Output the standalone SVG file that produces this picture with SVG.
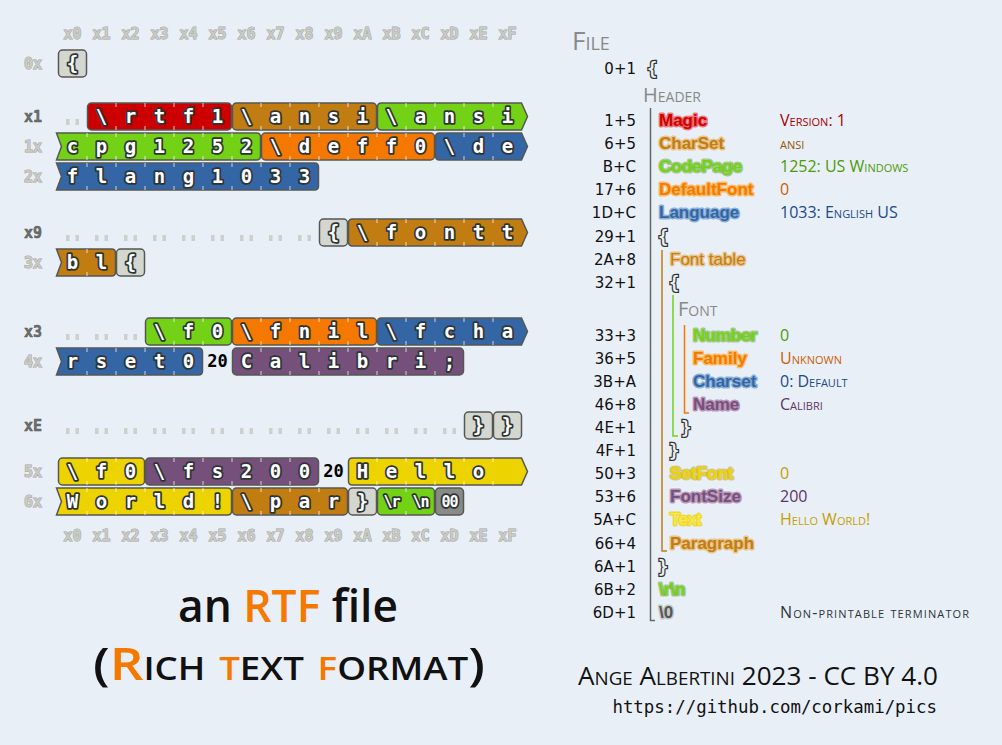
<svg xmlns="http://www.w3.org/2000/svg" width="1002" height="745" viewBox="0 0 1002 745">
<style>
.seg{stroke:#555753;stroke-width:1.5}
.red{fill:#cc0000}.brn{fill:#c17d11}.grn{fill:#73d216}.org{fill:#f57900}.blu{fill:#3465a4}.pur{fill:#75507b}.yel{fill:#edd400}.gry{fill:#d3d7cf}.dgr{fill:#888a85}
.ch{font-family:"DejaVu Sans Mono",monospace;font-weight:bold;font-size:19px;fill:#fff;stroke:#2e3436;stroke-width:3.5;paint-order:stroke;text-anchor:middle;stroke-linejoin:round}
.sm{font-size:15px;letter-spacing:-1px}
.sp{font-family:"DejaVu Sans Mono",monospace;font-weight:bold;font-size:17px;fill:#000;text-anchor:middle}
.tick{stroke:#fff;stroke-opacity:.6;stroke-width:1.2;fill:none}
.dots{fill:#cdd0cb}
.hd{font-family:"DejaVu Sans Mono",monospace;font-weight:bold;font-size:15px;fill:#c8cac3;stroke:#a3a59f;stroke-width:1;paint-order:stroke;text-anchor:middle}
.rl{font-family:"DejaVu Sans Mono",monospace;font-weight:bold;font-size:15px;text-anchor:middle}
.lt{fill:#c8cac3;stroke:#a3a59f;stroke-width:1;paint-order:stroke}
.dk{fill:#6e706b;stroke:#555753;stroke-width:.5}
.off{font-family:"DejaVu Sans",sans-serif;font-size:15px;fill:#111;text-anchor:end}
.fn{font-family:"Liberation Sans",Arial,sans-serif;font-weight:bold;font-size:17px;paint-order:stroke;stroke-width:3;stroke-linejoin:round}
.br{font-family:"DejaVu Sans Mono",monospace;font-weight:bold;font-size:17px;fill:#eeeeec;stroke:#2e3436;stroke-width:2.5;paint-order:stroke}
.val{font-family:"Open Sans",sans-serif;font-size:16px;font-variant:small-caps}
.ttl{font-family:"Open Sans",sans-serif;fill:#2e3436;font-variant:small-caps}
.tree{fill:none;stroke-width:1.5}
</style>
<rect width="1002" height="745" fill="#e9eff7"/>

<g id="col-headers" class="hd">
<text x="72.5" y="39">x0</text><text x="101.5" y="39">x1</text><text x="130.5" y="39">x2</text><text x="159.5" y="39">x3</text>
<text x="188.5" y="39">x4</text><text x="217.5" y="39">x5</text><text x="246.5" y="39">x6</text><text x="275.5" y="39">x7</text>
<text x="304.5" y="39">x8</text><text x="333.5" y="39">x9</text><text x="362.5" y="39">xA</text><text x="391.5" y="39">xB</text>
<text x="420.5" y="39">xC</text><text x="449.5" y="39">xD</text><text x="478.5" y="39">xE</text><text x="507.5" y="39">xF</text>
<text x="72.5" y="541">x0</text><text x="101.5" y="541">x1</text><text x="130.5" y="541">x2</text><text x="159.5" y="541">x3</text>
<text x="188.5" y="541">x4</text><text x="217.5" y="541">x5</text><text x="246.5" y="541">x6</text><text x="275.5" y="541">x7</text>
<text x="304.5" y="541">x8</text><text x="333.5" y="541">x9</text><text x="362.5" y="541">xA</text><text x="391.5" y="541">xB</text>
<text x="420.5" y="541">xC</text><text x="449.5" y="541">xD</text><text x="478.5" y="541">xE</text><text x="507.5" y="541">xF</text>
</g>

<g id="row-labels" class="rl">
<text class="lt" x="33" y="69">0x</text>
<text class="dk" x="33" y="122">x1</text>
<text class="lt" x="33" y="152">1x</text>
<text class="lt" x="33" y="182">2x</text>
<text class="dk" x="33" y="238">x9</text>
<text class="lt" x="33" y="268">3x</text>
<text class="dk" x="33" y="337">x3</text>
<text class="lt" x="33" y="367">4x</text>
<text class="dk" x="33" y="431">xE</text>
<text class="lt" x="33" y="477">5x</text>
<text class="lt" x="33" y="507">6x</text>
</g>

<g id="padding-dots" class="dots">
<path d="M66,119h3.5v6h-3.5zM75.5,119h3.5v6h-3.5z"/>
<path d="M66,235h3.5v6h-3.5zM75.5,235h3.5v6h-3.5zM95,235h3.5v6h-3.5zM104.5,235h3.5v6h-3.5zM124,235h3.5v6h-3.5zM133.5,235h3.5v6h-3.5zM153,235h3.5v6h-3.5zM162.5,235h3.5v6h-3.5zM182,235h3.5v6h-3.5zM191.5,235h3.5v6h-3.5zM211,235h3.5v6h-3.5zM220.5,235h3.5v6h-3.5zM240,235h3.5v6h-3.5zM249.5,235h3.5v6h-3.5zM269,235h3.5v6h-3.5zM278.5,235h3.5v6h-3.5zM298,235h3.5v6h-3.5zM307.5,235h3.5v6h-3.5z"/>
<path d="M66,334h3.5v6h-3.5zM75.5,334h3.5v6h-3.5zM95,334h3.5v6h-3.5zM104.5,334h3.5v6h-3.5zM124,334h3.5v6h-3.5zM133.5,334h3.5v6h-3.5z"/>
<path d="M66,428h3.5v6h-3.5zM75.5,428h3.5v6h-3.5zM95,428h3.5v6h-3.5zM104.5,428h3.5v6h-3.5zM124,428h3.5v6h-3.5zM133.5,428h3.5v6h-3.5zM153,428h3.5v6h-3.5zM162.5,428h3.5v6h-3.5zM182,428h3.5v6h-3.5zM191.5,428h3.5v6h-3.5zM211,428h3.5v6h-3.5zM220.5,428h3.5v6h-3.5zM240,428h3.5v6h-3.5zM249.5,428h3.5v6h-3.5zM269,428h3.5v6h-3.5zM278.5,428h3.5v6h-3.5zM298,428h3.5v6h-3.5zM307.5,428h3.5v6h-3.5zM327,428h3.5v6h-3.5zM336.5,428h3.5v6h-3.5zM356,428h3.5v6h-3.5zM365.5,428h3.5v6h-3.5zM385,428h3.5v6h-3.5zM394.5,428h3.5v6h-3.5zM414,428h3.5v6h-3.5zM423.5,428h3.5v6h-3.5zM443,428h3.5v6h-3.5zM452.5,428h3.5v6h-3.5z"/>
</g>

<g id="file-open"><rect class="seg gry" x="58.5" y="50" width="28" height="27" rx="4"/><text class="ch" x="72.5" y="70">{</text></g>

<g id="magic"><rect class="seg red" x="87.5" y="103" width="144" height="27" rx="4"/><text class="ch" x="101.5 130.5 159.5 188.5 217.5" y="123">\rtf1</text></g>
<g id="charset"><rect class="seg brn" x="232.5" y="103" width="144" height="27" rx="4"/><text class="ch" x="246.5 275.5 304.5 333.5 362.5" y="123">\ansi</text></g>
<g id="codepage">
<path class="seg grn" d="M381.5,103H521.5L527.5,116.5L521.5,130H381.5Q377.5,130 377.5,126V107Q377.5,103 381.5,103Z"/>
<text class="ch" x="391.5 420.5 449.5 478.5 507.5" y="123">\ansi</text>
<path class="seg grn" d="M56.5,133H256.5Q260.5,133 260.5,137V156Q260.5,160 256.5,160H56.5L61.5,146.5Z"/>
<text class="ch" x="72.5 101.5 130.5 159.5 188.5 217.5 246.5" y="153">cpg1252</text>
</g>
<g id="defaultfont"><rect class="seg org" x="261.5" y="133" width="173" height="27" rx="4"/><text class="ch" x="275.5 304.5 333.5 362.5 391.5 420.5" y="153">\deff0</text></g>
<g id="language">
<path class="seg blu" d="M439.5,133H521.5L527.5,146.5L521.5,160H439.5Q435.5,160 435.5,156V137Q435.5,133 439.5,133Z"/>
<text class="ch" x="449.5 478.5 507.5" y="153">\de</text>
<path class="seg blu" d="M56.5,163H314.5Q318.5,163 318.5,167V186Q318.5,190 314.5,190H56.5L61.5,176.5Z"/>
<text class="ch" x="72.5 101.5 130.5 159.5 188.5 217.5 246.5 275.5 304.5" y="183">flang1033</text>
</g>

<g id="group-open"><rect class="seg gry" x="319.5" y="219" width="28" height="27" rx="4"/><text class="ch" x="333.5" y="239">{</text></g>
<g id="fonttable">
<path class="seg brn" d="M352.5,219H521.5L527.5,232.5L521.5,246H352.5Q348.5,246 348.5,242V223Q348.5,219 352.5,219Z"/>
<text class="ch" x="362.5 391.5 420.5 449.5 478.5 507.5" y="239">\fontt</text>
<path class="seg brn" d="M56.5,249H111.5Q115.5,249 115.5,253V272Q115.5,276 111.5,276H56.5L61.5,262.5Z"/>
<text class="ch" x="72.5 101.5" y="269">bl</text>
</g>
<g id="font-open"><rect class="seg gry" x="116.5" y="249" width="28" height="27" rx="4"/><text class="ch" x="130.5" y="269">{</text></g>

<g id="font-number"><rect class="seg grn" x="145.5" y="318" width="86" height="27" rx="4"/><text class="ch" x="159.5 188.5 217.5" y="338">\f0</text></g>
<g id="font-family"><rect class="seg org" x="232.5" y="318" width="144" height="27" rx="4"/><text class="ch" x="246.5 275.5 304.5 333.5 362.5" y="338">\fnil</text></g>
<g id="font-charset">
<path class="seg blu" d="M381.5,318H521.5L527.5,331.5L521.5,345H381.5Q377.5,345 377.5,341V322Q377.5,318 381.5,318Z"/>
<text class="ch" x="391.5 420.5 449.5 478.5 507.5" y="338">\fcha</text>
<path class="seg blu" d="M56.5,348H198.5Q202.5,348 202.5,352V371Q202.5,375 198.5,375H56.5L61.5,361.5Z"/>
<text class="ch" x="72.5 101.5 130.5 159.5 188.5" y="368">rset0</text>
</g>
<g id="space1"><text class="sp" x="217.5" y="367">20</text></g>
<g id="font-name"><rect class="seg pur" x="232.5" y="348" width="231" height="27" rx="4"/><text class="ch" x="246.5 275.5 304.5 333.5 362.5 391.5 420.5 449.5" y="368">Calibri;</text></g>

<g id="font-close"><rect class="seg gry" x="464.5" y="412" width="28" height="27" rx="4"/><text class="ch" x="478.5" y="432">}</text></g>
<g id="table-close"><rect class="seg gry" x="493.5" y="412" width="28" height="27" rx="4"/><text class="ch" x="507.5" y="432">}</text></g>

<g id="setfont"><rect class="seg yel" x="58.5" y="458" width="86" height="27" rx="4"/><text class="ch" x="72.5 101.5 130.5" y="478">\f0</text></g>
<g id="fontsize"><rect class="seg pur" x="145.5" y="458" width="173" height="27" rx="4"/><text class="ch" x="159.5 188.5 217.5 246.5 275.5 304.5" y="478">\fs200</text></g>
<g id="space2"><text class="sp" x="333.5" y="477">20</text></g>
<g id="text">
<path class="seg yel" d="M352.5,458H521.5L527.5,471.5L521.5,485H352.5Q348.5,485 348.5,481V462Q348.5,458 352.5,458Z"/>
<text class="ch" x="362.5 391.5 420.5 449.5 478.5" y="478">Hello</text>
<path class="seg yel" d="M56.5,488H227.5Q231.5,488 231.5,492V511Q231.5,515 227.5,515H56.5L61.5,501.5Z"/>
<text class="ch" x="72.5 101.5 130.5 159.5 188.5 217.5" y="508">World!</text>
</g>
<g id="paragraph"><rect class="seg brn" x="232.5" y="488" width="115" height="27" rx="4"/><text class="ch" x="246.5 275.5 304.5 333.5" y="508">\par</text></g>
<g id="file-close"><rect class="seg gry" x="348.5" y="488" width="28" height="27" rx="4"/><text class="ch" x="362.5" y="508">}</text></g>
<g id="crlf"><rect class="seg grn" x="377.5" y="488" width="57" height="27" rx="4"/><text class="ch sm" x="391.5" y="507">\r</text><text class="ch sm" x="420.5" y="507">\n</text></g>
<g id="terminator"><rect class="seg dgr" x="435.5" y="488" width="28" height="27" rx="4"/><text class="ch sm" x="449.5" y="507">00</text></g>

<g id="cell-ticks" class="tick">
<path d="M116,103v4M116,130v-4M145,103v4M145,130v-4M174,103v4M174,130v-4M203,103v4M203,130v-4M261,103v4M261,130v-4M290,103v4M290,130v-4M319,103v4M319,130v-4M348,103v4M348,130v-4M406,103v4M406,130v-4M435,103v4M435,130v-4M464,103v4M464,130v-4M493,103v4M493,130v-4"/>
<path d="M87,133v4M87,160v-4M116,133v4M116,160v-4M145,133v4M145,160v-4M174,133v4M174,160v-4M203,133v4M203,160v-4M232,133v4M232,160v-4M290,133v4M290,160v-4M319,133v4M319,160v-4M348,133v4M348,160v-4M377,133v4M377,160v-4M406,133v4M406,160v-4M464,133v4M464,160v-4M493,133v4M493,160v-4"/>
<path d="M87,163v4M87,190v-4M116,163v4M116,190v-4M145,163v4M145,190v-4M174,163v4M174,190v-4M203,163v4M203,190v-4M232,163v4M232,190v-4M261,163v4M261,190v-4M290,163v4M290,190v-4"/>
<path d="M377,219v4M377,246v-4M406,219v4M406,246v-4M435,219v4M435,246v-4M464,219v4M464,246v-4M493,219v4M493,246v-4M87,249v4M87,276v-4"/>
<path d="M174,318v4M174,345v-4M203,318v4M203,345v-4M261,318v4M261,345v-4M290,318v4M290,345v-4M319,318v4M319,345v-4M348,318v4M348,345v-4M406,318v4M406,345v-4M435,318v4M435,345v-4M464,318v4M464,345v-4M493,318v4M493,345v-4"/>
<path d="M87,348v4M87,375v-4M116,348v4M116,375v-4M145,348v4M145,375v-4M174,348v4M174,375v-4M261,348v4M261,375v-4M290,348v4M290,375v-4M319,348v4M319,375v-4M348,348v4M348,375v-4M377,348v4M377,375v-4M406,348v4M406,375v-4M435,348v4M435,375v-4"/>
<path d="M87,458v4M87,485v-4M116,458v4M116,485v-4M174,458v4M174,485v-4M203,458v4M203,485v-4M232,458v4M232,485v-4M261,458v4M261,485v-4M290,458v4M290,485v-4M377,458v4M377,485v-4M406,458v4M406,485v-4M435,458v4M435,485v-4M464,458v4M464,485v-4M493,458v4M493,485v-4"/>
<path d="M87,488v4M87,515v-4M116,488v4M116,515v-4M145,488v4M145,515v-4M174,488v4M174,515v-4M203,488v4M203,515v-4M261,488v4M261,515v-4M290,488v4M290,515v-4M319,488v4M319,515v-4M406,488v4M406,515v-4"/>
</g>

<g id="title">
<text class="ttl" x="288" y="622" font-size="45" font-weight="600" text-anchor="middle" textLength="220" lengthAdjust="spacingAndGlyphs" style="font-variant:normal;fill:#111">an <tspan fill="#f57900" style="fill:#f57900">RTF</tspan> file</text>
<text class="ttl" x="289" y="680" font-size="46" font-weight="600" text-anchor="middle" textLength="392" lengthAdjust="spacingAndGlyphs" style="fill:#111">(<tspan style="fill:#f57900">R</tspan>ich <tspan style="fill:#f57900">t</tspan>ext <tspan style="fill:#f57900">f</tspan>ormat)</text>
</g>

<g id="structure-labels">
<text class="ttl" x="572" y="50" font-size="26" style="fill:#888a85">File</text>
<text class="ttl" x="643" y="102" font-size="20" style="fill:#888a85">Header</text>
<text class="ttl" x="678" y="316" font-size="20" style="fill:#888a85">Font</text>
</g>

<g id="offsets" class="off">
<text x="636" y="74">0+1</text>
<text x="636" y="126">1+5</text>
<text x="636" y="149">6+5</text>
<text x="636" y="172">B+C</text>
<text x="636" y="195">17+6</text>
<text x="636" y="218">1D+C</text>
<text x="636" y="242">29+1</text>
<text x="636" y="265">2A+8</text>
<text x="636" y="288">32+1</text>
<text x="636" y="341">33+3</text>
<text x="636" y="364">36+5</text>
<text x="636" y="387">3B+A</text>
<text x="636" y="410">46+8</text>
<text x="636" y="433">4E+1</text>
<text x="636" y="456">4F+1</text>
<text x="636" y="479">50+3</text>
<text x="636" y="502">53+6</text>
<text x="636" y="525">5A+C</text>
<text x="636" y="549">66+4</text>
<text x="636" y="572">6A+1</text>
<text x="636" y="595">6B+2</text>
<text x="636" y="618">6D+1</text>
</g>

<g id="connectors" class="tree">
<path d="M650.5,108V620.5H655" stroke="#666862"/>
<path d="M662,250V551H667" stroke="#c17d11"/>
<path d="M673,295V436H678" stroke="#73d216"/>
<path d="M684.5,325V413H689" stroke="#f57900"/>
</g>

<g id="braces" class="br">
<text x="647" y="75">{</text>
<text x="658" y="243">{</text>
<text x="669" y="289">{</text>
<text x="681" y="434">}</text>
<text x="669" y="457">}</text>
<text x="658" y="573">}</text>
</g>

<g id="field-names" class="fn">
<text x="659" y="126" fill="#cc0000" stroke="#ef2929" stroke-opacity=".6">Magic</text>
<text x="659" y="149" fill="#c17d11" stroke="#e9b96e" stroke-opacity=".8">CharSet</text>
<text x="659" y="172" fill="#73d216" stroke="#4e9a06" stroke-opacity=".45">CodePage</text>
<text x="659" y="195" fill="#f57900" stroke="#fcaf3e" stroke-opacity=".8">DefaultFont</text>
<text x="659" y="218" fill="#3465a4" stroke="#729fcf" stroke-opacity=".8">Language</text>
<text x="670" y="265" fill="#c17d11" stroke="#e9b96e" stroke-opacity=".8" style="font-weight:normal">Font table</text>
<text x="693" y="341" fill="#73d216" stroke="#4e9a06" stroke-opacity=".45">Number</text>
<text x="693" y="364" fill="#f57900" stroke="#fcaf3e" stroke-opacity=".8">Family</text>
<text x="693" y="387" fill="#3465a4" stroke="#729fcf" stroke-opacity=".8">Charset</text>
<text x="693" y="410" fill="#75507b" stroke="#ad7fa8" stroke-opacity=".8">Name</text>
<text x="670" y="479" fill="#edd400" stroke="#c4a000" stroke-opacity=".5">SetFont</text>
<text x="670" y="502" fill="#75507b" stroke="#ad7fa8" stroke-opacity=".8">FontSize</text>
<text x="670" y="525" fill="#fce94f" stroke="#edd400" stroke-opacity=".8" style="font-weight:normal">Text</text>
<text x="670" y="549" fill="#c17d11" stroke="#e9b96e" stroke-opacity=".8">Paragraph</text>
<text x="659" y="595" fill="#73d216" stroke="#4e9a06" stroke-opacity=".45">\r\n</text>
<text x="659" y="618" fill="#555753" stroke="#babdb6" stroke-opacity=".8">\0</text>
</g>

<g id="values" class="val">
<text x="780" y="126" fill="#a40000">Version: 1</text>
<text x="780" y="149" fill="#8f5902">ansi</text>
<text x="780" y="172" fill="#4e9a06">1252: US Windows</text>
<text x="780" y="195" fill="#ce5c00">0</text>
<text x="780" y="218" fill="#204a87">1033: English US</text>
<text x="780" y="341" fill="#4e9a06">0</text>
<text x="780" y="364" fill="#ce5c00">Unknown</text>
<text x="780" y="387" fill="#204a87">0: Default</text>
<text x="780" y="410" fill="#5c3566">Calibri</text>
<text x="780" y="479" fill="#c4a000">0</text>
<text x="780" y="502" fill="#5c3566">200</text>
<text x="780" y="525" fill="#c4a000">Hello World!</text>
<text x="780" y="618" fill="#2e3436" textLength="189" lengthAdjust="spacing">Non-printable terminator</text>
</g>

<g id="footer">
<text class="ttl" x="578" y="685" font-size="25" textLength="360" lengthAdjust="spacingAndGlyphs" style="fill:#111">Ange Albertini 2023 - CC BY 4.0</text>
<text x="937" y="713" font-family="DejaVu Sans Mono, monospace" font-size="17.4" text-anchor="end" fill="#111">https://github.com/corkami/pics</text>
</g>
</svg>
